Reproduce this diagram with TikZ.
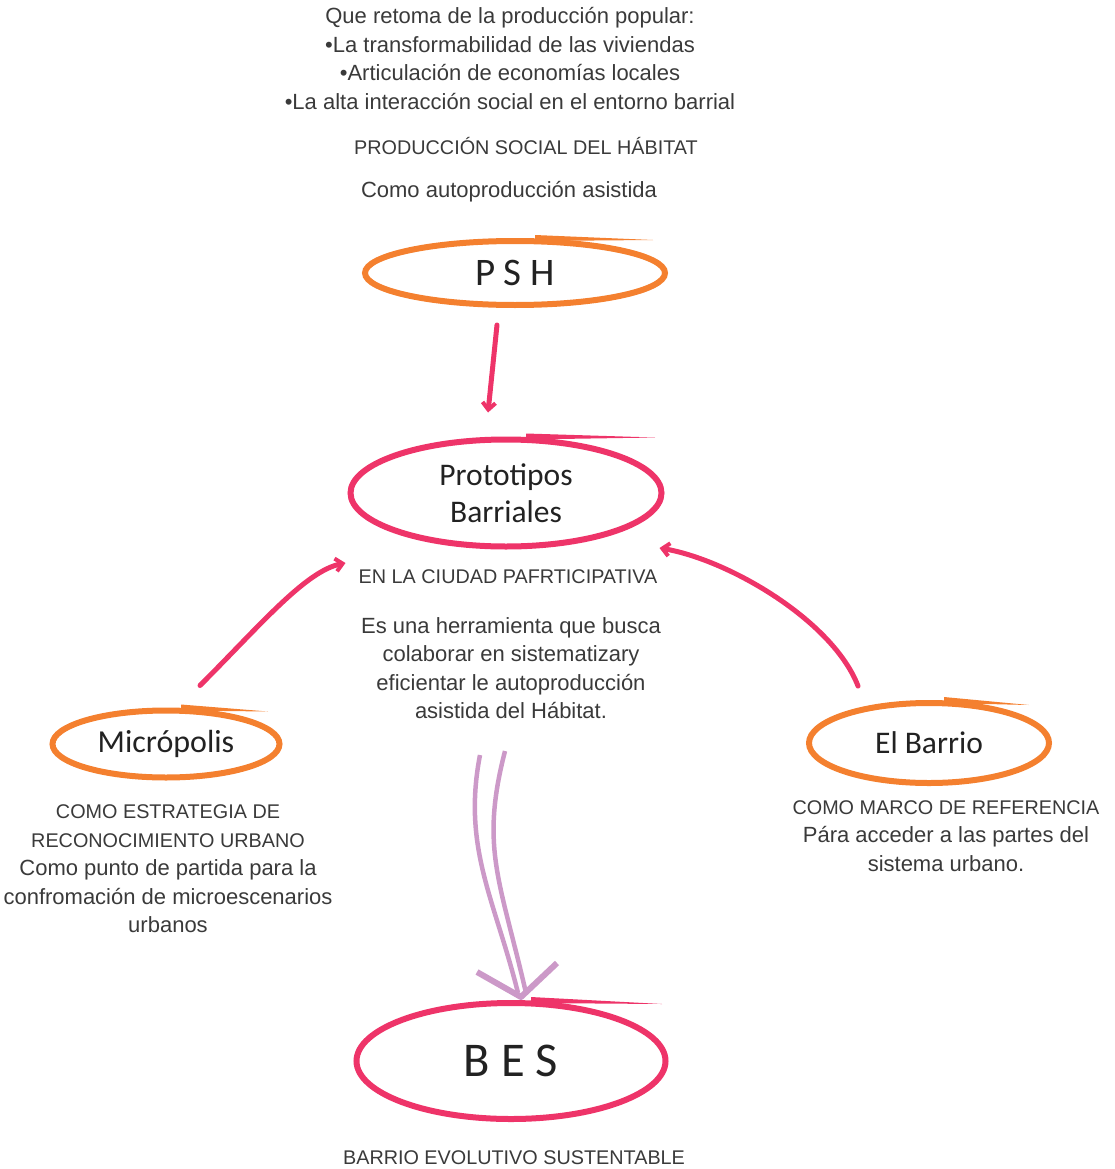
\documentclass[tikz,border=0pt]{standalone}
\usepackage{fontspec}
\setmainfont{Liberation Sans}
\newfontfamily\calib{Carlito}
\usetikzlibrary{shapes.geometric,arrows.meta,calc}
\definecolor{orng}{HTML}{F4802F}
\definecolor{pnk}{HTML}{EE3469}
\definecolor{prpl}{HTML}{CC99C8}
\definecolor{txt}{HTML}{3A3A3A}
\definecolor{lbl}{HTML}{222222}
\newcommand{\lcs}{\fontsize{22}{28.5}\selectfont}
\newcommand{\ucs}{\fontsize{19.8}{28.5}\selectfont}
\begin{document}
\begin{tikzpicture}[x=1pt,y=-1pt,
  note/.style={font=\lcs, text=txt, align=center, inner sep=0},
  bubble/.style={ellipse, draw, line width=6, inner sep=0, text=lbl, font=\calib},
  pinkarrow/.style={draw=pnk, line width=5, line cap=round, -{Straight Barb[length=7,width=13,line width=4]}},
  purpleline/.style={draw=prpl, line width=4.5, line cap=butt}
]
\useasboundingbox (0,0) rectangle (1114,1169);

% text notes
\node[note] (top) at (510,58.5) {Que retoma de la producción popular:\\
  •La transformabilidad de las viviendas\\
  •Articulación de economías locales\\
  •La alta interacción social en el entorno barrial};
\node[note, font=\ucs] (psht) at (526,146) {PRODUCCIÓN SOCIAL DEL HÁBITAT};
\node[note] (como) at (509,192) {Como autoproducción asistida};
\node[note, font=\ucs] (ciudad) at (508,577) {EN LA CIUDAD PAFRTICIPATIVA};
\node[note] (desc) at (511,668) {Es una herramienta que busca\\
  colaborar en sistematizary\\
  eficientar le autoproducción\\
  asistida del Hábitat.};
\node[note] (mtext) at (168,869) {{\ucs COMO ESTRATEGIA DE}\\
  {\ucs RECONOCIMIENTO URBANO}\\
  Como punto de partida para la\\
  confromación de microescenarios\\
  urbanos};
\node[note] (btext) at (946,836) {{\ucs COMO MARCO DE REFERENCIA}\\
  Pára acceder a las partes del\\
  sistema urbano.};
\node[note, font=\ucs] (bestext) at (514,1158) {BARRIO EVOLUTIVO SUSTENTABLE};

% bubbles
\node[bubble, draw=orng, minimum width=300, minimum height=64, font=\calib\fontsize{39}{39}\selectfont] (psh) at (515,273) {P S H};
\node[bubble, draw=pnk, minimum width=311, minimum height=107, align=center, font=\calib\fontsize{31.5}{37}\selectfont] (proto) at (506,493) {Prototipos\\Barriales};
\node[bubble, draw=orng, minimum width=227, minimum height=67, font=\calib\fontsize{32}{32}\selectfont] (micro) at (166,744) {Micrópolis};
\node[bubble, draw=orng, minimum width=240, minimum height=80, font=\calib\fontsize{31.5}{32}\selectfont] (barrio) at (929,743) {El Barrio};
\node[bubble, draw=pnk, minimum width=309, minimum height=116, font=\calib\fontsize{48.5}{50}\selectfont] (bes) at (511,1061) {B E S};

% brush tails
\fill[orng] ($(psh.north)+(20,-3)$) -- ($(psh.north)+(138,2)$) -- ($(psh.north)+(20,3)$) -- cycle;
\fill[pnk] ($(proto.north)+(20,-3)$) -- ($(proto.north)+(149,1)$) -- ($(proto.north)+(20,3)$) -- cycle;
\fill[orng] ($(micro.north)+(15,-3)$) -- ($(micro.north)+(102,4)$) -- ($(micro.north)+(15,3)$) -- cycle;
\fill[orng] ($(barrio.north)+(15,-3)$) -- ($(barrio.north)+(100,5)$) -- ($(barrio.north)+(15,3)$) -- cycle;
\fill[pnk] ($(bes.north)+(20,-3)$) -- ($(bes.north)+(151,4)$) -- ($(bes.north)+(20,3)$) -- cycle;

% connectors
\draw[pinkarrow] ($(psh.south)+(-18,17)$) -- ($(proto.north)+(-18,-24)$);
\draw[pinkarrow] ($(micro.north)+(34,-22)$) .. controls +(60,-60) and +(-40,8) .. ($(proto.west)+(-2,70)$);
\draw[pinkarrow] ($(barrio.north)+(-71,-14)$) .. controls +(-25,-65) and +(70,12) .. ($(proto.east)+(-5,55)$);

% purple double arrow
\coordinate (pl) at ($(desc.south)+(-31,36)$);
\coordinate (pr) at ($(desc.south)+(-6,32)$);
\coordinate (tl) at ($(bes.north)+(7,-7)$);
\coordinate (tr) at ($(bes.north)+(15,-7)$);
\draw[purpleline] (pl) .. controls +(-18,93) and +(-23,-93) .. (tl);
\draw[purpleline] (pr) .. controls +(-25,97) and +(-26,-113) .. (tr);
\draw[prpl, line width=6, line join=round, line cap=butt] ($(bes.north)+(-34,-28)$) -- ($(bes.north)+(10,-3)$) -- ($(bes.north)+(46,-37)$);
\end{tikzpicture}
\end{document}
